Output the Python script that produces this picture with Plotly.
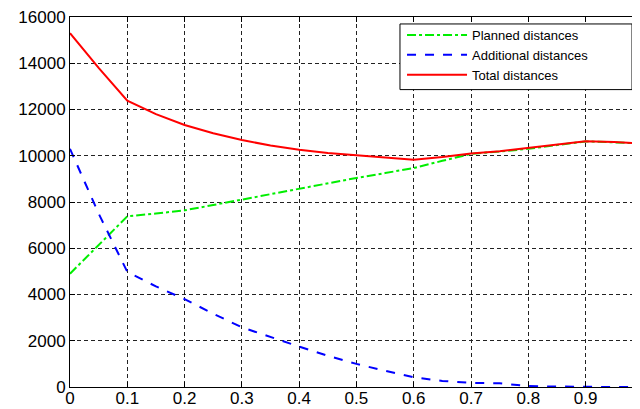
import plotly.graph_objects as go

x_vals = [0.0, 0.05, 0.1, 0.15, 0.2, 0.25, 0.3, 0.35, 0.4, 0.45, 0.5,
          0.55, 0.6, 0.65, 0.7, 0.75, 0.8, 0.85, 0.9, 0.95, 1.0]
planned = [4900, 6150, 7380, 7500, 7640, 7870, 8110, 8340, 8580, 8800, 9040,
           9250, 9470, 9780, 10080, 10180, 10300, 10460, 10620, 10580, 10530]
additional = [10300, 7500, 4980, 4350, 3800, 3170, 2580, 2150, 1750, 1350, 1000,
              700, 420, 260, 180, 160, 40, 20, 0, 0, 0]
total = [15300, 13800, 12380, 11800, 11330, 10970, 10680, 10440, 10260, 10120, 10020,
         9930, 9830, 9950, 10100, 10200, 10340, 10480, 10630, 10590, 10530]
names = ["Planned distances", "Additional distances", "Total distances"]
x_ticks = [0, 0.1, 0.2, 0.3, 0.4, 0.5, 0.6, 0.7, 0.8, 0.9, 1.0]
x_ticktext = ["0", "0.1", "0.2", "0.3", "0.4", "0.5", "0.6", "0.7", "0.8", "0.9", "1"]
y_ticks = [0, 2000, 4000, 6000, 8000, 10000, 12000, 14000, 16000]
y_ticktext = ["0", "2000", "4000", "6000", "8000", "10000", "12000", "14000", "16000"]

fig = go.Figure()
fig.add_trace(go.Scatter(x=x_vals, y=planned, mode="lines", name=names[0],
                         line=dict(color="#00ee00", width=2, dash="dashdot")))
fig.add_trace(go.Scatter(x=x_vals, y=additional, mode="lines", name=names[1],
                         line=dict(color="#0000ff", width=2, dash="dash")))
fig.add_trace(go.Scatter(x=x_vals, y=total, mode="lines", name=names[2],
                         line=dict(color="#ff0000", width=2)))

# legend frame (white box with black border) behind the legend entries
fig.add_shape(type="rect", xref="paper", yref="paper",
              x0=0.5789, x1=0.986, y0=0.8038, y1=0.9812,
              fillcolor="white", line=dict(color="black", width=1), layer="above")

font_family = "Liberation Sans, Arial, Helvetica, sans-serif"
# page body has an 8px default margin, so the figure is sized to fit the window
fig.update_layout(
    width=632, height=401,
    margin=dict(l=62, r=0, t=7, b=22),
    paper_bgcolor="white", plot_bgcolor="white",
    font=dict(family=font_family, size=17, color="black"),
    showlegend=True,
    legend=dict(x=0.5825, y=0.992, xanchor="left", yanchor="top",
                bgcolor="rgba(0,0,0,0)", borderwidth=0,
                font=dict(size=13, color="black"), itemwidth=60,
                tracegroupgap=0),
    xaxis=dict(range=[0, 0.995], tickvals=x_ticks, ticktext=x_ticktext,
               showgrid=True, gridcolor="#222222", gridwidth=1, griddash="4px,3px",
               showline=True, linecolor="black", linewidth=1, mirror="ticks",
               ticks="inside", ticklen=5, tickcolor="black",
               zeroline=False, tickfont=dict(size=17), ticklabelstandoff=-4,
               ticklabeloverflow="allow"),
    yaxis=dict(range=[0, 16000], tickvals=y_ticks, ticktext=y_ticktext,
               showgrid=True, gridcolor="#222222", gridwidth=1, griddash="4px,3px",
               showline=True, linecolor="black", linewidth=1, mirror=False,
               ticks="inside", ticklen=5, tickcolor="black",
               zeroline=False, tickfont=dict(size=17), ticklabeloverflow="allow"),
)
fig.write_html("out.html")
